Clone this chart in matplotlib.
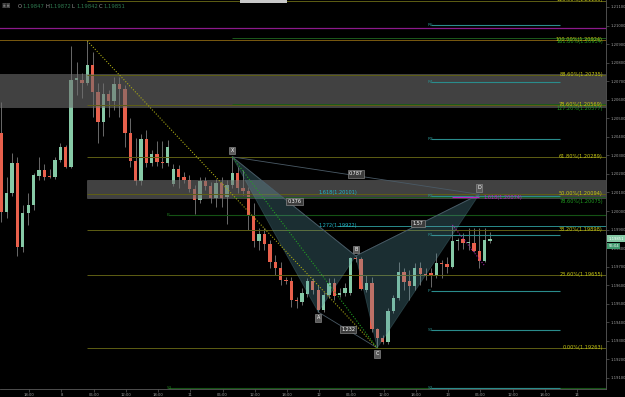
import numpy as np
import matplotlib
matplotlib.use('Agg')
import matplotlib.pyplot as plt
from matplotlib.patches import Polygon, Rectangle

# hourly candles
opens = [1.20421, 1.19995, 1.20098, 1.20259, 1.19807, 1.19990, 1.20033, 1.20189, 1.20222, 1.20188,
         1.20184, 1.20276, 1.20346, 1.20238, 1.20707, 1.20707, 1.20691, 1.20788, 1.20642, 1.20480,
         1.20631, 1.20594, 1.20685, 1.20658, 1.20421, 1.20270, 1.20162, 1.20389, 1.20259, 1.20308,
         1.20265, 1.20259, 1.20146, 1.20227, 1.20184, 1.20168, 1.20119, 1.20060, 1.20162, 1.20136,
         1.20071, 1.20152, 1.20076, 1.20141, 1.20206, 1.20125, 1.20109, 1.19974, 1.19839, 1.19877,
         1.19823, 1.19726, 1.19694, 1.19629, 1.19623, 1.19521, 1.19510, 1.19553, 1.19623, 1.19575,
         1.19467, 1.19548, 1.19613, 1.19548, 1.19559, 1.19559, 1.19747, 1.19742, 1.19575, 1.19613,
         1.19365, 1.19316, 1.19295, 1.19462, 1.19532, 1.19672, 1.19623, 1.19597, 1.19694, 1.19661,
         1.19667, 1.19650, 1.19720, 1.19715, 1.19699, 1.19839, 1.19850, 1.19828, 1.19828, 1.19785,
         1.19731, 1.19839]
highs = [1.20588, 1.20184, 1.20313, 1.20292, 1.20033, 1.20098, 1.20206, 1.20292, 1.20254, 1.20227,
         1.20292, 1.20367, 1.20356, 1.20890, 1.20804, 1.20745, 1.20917, 1.20858, 1.20691, 1.20691,
         1.20653, 1.20723, 1.20723, 1.20680, 1.20502, 1.20394, 1.20416, 1.20437, 1.20330, 1.20378,
         1.20378, 1.20383, 1.20254, 1.20249, 1.20211, 1.20195, 1.20141, 1.20184, 1.20184, 1.20157,
         1.20173, 1.20184, 1.20168, 1.20292, 1.20238, 1.20222, 1.20130, 1.20044, 1.19909, 1.19909,
         1.19844, 1.19764, 1.19726, 1.19645, 1.19645, 1.19537, 1.19586, 1.19640, 1.19640, 1.19602,
         1.19564, 1.19640, 1.19640, 1.19586, 1.19613, 1.19753, 1.19758, 1.19753, 1.19656, 1.19645,
         1.19370, 1.19332, 1.19478, 1.19548, 1.19726, 1.19694, 1.19683, 1.19720, 1.19726, 1.19694,
         1.19694, 1.19774, 1.19737, 1.19753, 1.19925, 1.19855, 1.19882, 1.19909, 1.19909, 1.19909,
         1.19909, 1.19887]
lows = [1.19941, 1.19963, 1.20082, 1.19758, 1.19780, 1.19925, 1.20006, 1.20168, 1.20168, 1.20179,
        1.20173, 1.20265, 1.20233, 1.20233, 1.20626, 1.20610, 1.20680, 1.20507, 1.20367, 1.20405,
        1.20507, 1.20545, 1.20507, 1.20346, 1.20238, 1.20141, 1.20141, 1.20238, 1.20243, 1.20243,
        1.20233, 1.20243, 1.20136, 1.20125, 1.20152, 1.20103, 1.19985, 1.20044, 1.20114, 1.20044,
        1.20022, 1.20022, 1.19931, 1.20125, 1.20098, 1.20087, 1.19898, 1.19807, 1.19791, 1.19791,
        1.19694, 1.19656, 1.19602, 1.19607, 1.19483, 1.19478, 1.19494, 1.19537, 1.19553, 1.19456,
        1.19456, 1.19532, 1.19521, 1.19537, 1.19543, 1.19548, 1.19726, 1.19575, 1.19564, 1.19349,
        1.19262, 1.19284, 1.19284, 1.19451, 1.19521, 1.19575, 1.19521, 1.19575, 1.19602, 1.19629,
        1.19591, 1.19640, 1.19640, 1.19667, 1.19694, 1.19791, 1.19796, 1.19791, 1.19780, 1.19694,
        1.19726, 1.19828]
closes = [1.19995, 1.20098, 1.20259, 1.19807, 1.19990, 1.20033, 1.20195, 1.20222, 1.20184, 1.20184,
          1.20276, 1.20346, 1.20238, 1.20707, 1.20718, 1.20691, 1.20788, 1.20642, 1.20480, 1.20631,
          1.20594, 1.20685, 1.20658, 1.20421, 1.20270, 1.20162, 1.20389, 1.20259, 1.20308, 1.20265,
          1.20259, 1.20346, 1.20227, 1.20184, 1.20168, 1.20119, 1.20060, 1.20162, 1.20136, 1.20071,
          1.20152, 1.20071, 1.20141, 1.20206, 1.20125, 1.20109, 1.19974, 1.19839, 1.19877, 1.19823,
          1.19726, 1.19694, 1.19629, 1.19623, 1.19521, 1.19516, 1.19559, 1.19623, 1.19575, 1.19467,
          1.19548, 1.19613, 1.19543, 1.19559, 1.19586, 1.19747, 1.19742, 1.19580, 1.19613, 1.19365,
          1.19316, 1.19295, 1.19462, 1.19532, 1.19672, 1.19618, 1.19597, 1.19694, 1.19661, 1.19656,
          1.19656, 1.19720, 1.19715, 1.19699, 1.19839, 1.19844, 1.19828, 1.19833, 1.19785, 1.19731,
          1.19844, 1.19851]

time_ticks = [5.2 + 6 * k for k in range(18)]
time_labels = ['18:00', '8', '06:00', '12:00', '18:00', '11', '06:00', '12:00', '18:00',
               '12', '06:00', '12:00', '18:00', '13', '06:00', '12:00', '18:00', '14']

# fibonacci retracement (yellow) and extension from X (green)
fib_pct = ['113.00%', '100.00%', '88.60%', '78.60%', '61.80%', '50.00%', '38.20%', '23.60%', '0.00%']
fib_px = [1.21135, 1.20924, 1.20735, 1.20569, 1.20289, 1.20094, 1.19898, 1.19655, 1.19263]
gfib_pct = ['161.80%', '127.20%', '78.60%']
gfib_px = [1.20934, 1.20577, 1.20075]

# pivots
piv_names = ['R5', 'R4', 'R3', 'R2', 'R1', 'P', 'S1', 'S2']
piv_px = [1.21003, 1.20696, 1.20389, 1.20082, 1.19871, 1.19570, 1.19359, 1.19047]
old_piv_names = ['P', 'S1']
old_piv_px = [1.19979, 1.19047]

# supply/demand zones
zone_lo = [1.20561, 1.20071]
zone_hi = [1.20739, 1.20168]
zone_start = [-1, 16]

# XABCD pattern
pat_names = ['X', 'A', 'B', 'C', 'D']
pat_idx = [43, 59, 66, 70, 89]
pat_px = [1.20292, 1.19456, 1.19758, 1.19262, 1.20090]

GREEN = '#86c9a6'
RED = '#e8604c'
OLIVE = '#5e5e14'
YEL = '#c8c814'
FGREEN = '#22a022'
TEAL = '#2a8c8c'
MAG = '#8c1a8c'

XMAX = 112.6
fig = plt.figure(figsize=(6.25, 3.97), dpi=100, facecolor='black')
ax = fig.add_axes([0, 8 / 397, 606 / 625, 389 / 397], facecolor='black')
ax.set_xlim(-0.25, XMAX)
ax.set_ylim(1.190407, 1.211377)

# candles
x = np.arange(len(opens))
o = np.array(opens); c = np.array(closes)
cols = [GREEN if cc >= oo else RED for oo, cc in zip(o, c)]
ax.vlines(x, lows, highs, color='#7a7a7a', lw=0.6, zorder=2)
body = np.where(np.abs(c - o) < 0.00003, 0.00003, c - o)
ax.bar(x, body, bottom=o, width=0.62, color=cols, lw=0, zorder=3)

# zones on top, translucent
for lo, hi, st in zip(zone_lo, zone_hi, zone_start):
    ax.add_patch(Rectangle((st, lo), XMAX - st + 1, hi - lo, fc='#6e6e6e', ec='#808080',
                           lw=0.4, alpha=0.6, zorder=4))

# magenta level
ax.axhline(1.20987, color=MAG, lw=0.9, zorder=5)

# fib lines
for pct, p in zip(fib_pct, fib_px):
    st = -1 if pct == '100.00%' else 16
    ax.hlines(p, st, XMAX, color=OLIVE if pct != '100.00%' else '#7a5a10', lw=0.7, zorder=5)
    ax.text(XMAX - 0.6, p + 0.00003, f'{pct}({p:.5f})', color=YEL, fontsize=3.6, ha='right',
            va='center', zorder=7)
for pct, p in zip(gfib_pct, gfib_px):
    ax.hlines(p, 43, XMAX, color='#1c5a1c', lw=0.7, zorder=5)
    ax.text(XMAX - 0.6, p - 0.00022, f'{pct}({p:.5f})', color=FGREEN, fontsize=3.6,
            ha='right', va='center', zorder=7)

# old pivots (dark green)
for n, p in zip(old_piv_names, old_piv_px):
    ax.hlines(p, 31, XMAX, color='#145214', lw=0.8, zorder=5)
    ax.text(30.8, p, n, color='#1e7a1e', fontsize=3.2, ha='left', va='center', zorder=7)

# today's pivots (teal)
for n, p in zip(piv_names, piv_px):
    ax.hlines(p, 80, 104, color=TEAL, lw=0.8, zorder=5)
    ax.text(79.4, p, n, color=TEAL, fontsize=3.2, ha='left', va='center', zorder=7)

# pattern fill
X = list(zip(pat_idx, pat_px))
for tri in [(X[0], X[1], X[2]), (X[2], X[3], X[4])]:
    ax.add_patch(Polygon(tri, closed=True, fc='#5a9aa8', ec='#5c8c96', alpha=0.3, lw=0.6,
                         zorder=6))
for a, b in [(0, 2), (0, 4), (1, 3), (2, 4)]:
    ax.plot([X[a][0], X[b][0]], [X[a][1], X[b][1]], color='#4a5a66', lw=0.6, zorder=6)

# dotted trend lines
ax.plot([16, 70], [1.20917, 1.19262], color='#a8a814', lw=0.8, ls=(0, (1, 1.5)), zorder=6)
ax.plot([43, 70], [1.20292, 1.19262], color='#22a022', lw=0.8, ls=(0, (1, 1.5)), zorder=6)
ax.plot([84, 90], [1.19925, 1.19705], color='#a020a0', lw=0.8, ls=(0, (1, 1.5)), zorder=6)

# projections
ax.hlines(1.19922, 62.5, XMAX, color=TEAL, lw=0.7, zorder=5)
ax.text(59, 1.19922, '1.272(1.19922)', color='#20b8c8', fontsize=3.6, ha='left', va='center', zorder=7)
ax.text(59, 1.20101, '1.618(1.20101)', color='#20b8c8', fontsize=3.6, ha='left', va='center', zorder=7)
ax.hlines(1.20074, 84, 89, color='#c020c0', lw=0.8, zorder=7)
ax.text(89.8, 1.20074, '1.618(1.20074)', color='#c020c0', fontsize=3.6, ha='left', va='center', zorder=7)

box = dict(boxstyle='square,pad=0.25', fc='#3c3c3c', ec='#9a9a9a', lw=0.4)
ratios = [('0.787', 66, 1.20200), ('0.376', 54.6, 1.20050), ('1.232', 64.6, 1.19362),
          ('1.57', 77.6, 1.19933)]
for t, xi, p in ratios:
    ax.text(xi, p, t, color='white', fontsize=3.5, ha='center', va='center', bbox=box, zorder=8)
offs = [0.00035, -0.00032, 0.00035, -0.00032, 0.00035]
for n, xi, p, d in zip(pat_names, pat_idx, pat_px, offs):
    ax.text(xi, p + d, n, color='white', fontsize=3.5, ha='center', va='center',
            bbox=dict(boxstyle='square,pad=0.25', fc='#5a5a5a', ec='#9a9a9a', lw=0.4), zorder=8)

# axes styling
for s in ['top', 'left']:
    ax.spines[s].set_visible(False)
for s in ['right', 'bottom']:
    ax.spines[s].set_color('#5a5a5a'); ax.spines[s].set_linewidth(0.6)
ax.yaxis.tick_right()
ax.set_yticks(np.round(np.arange(1.191, 1.2115, 0.001), 3))
ax.yaxis.set_major_formatter(matplotlib.ticker.FormatStrFormatter('%.5f'))
ax.set_xticks(time_ticks)
ax.set_xticklabels(time_labels)
ax.tick_params(colors='#5a5a5a', labelcolor='#a0a0a0', labelsize=2.7, length=2, width=0.5, pad=1)

# current price box
tr = ax.get_yaxis_transform()
ax.text(1.004, 1.19851, '1.19851', transform=tr, fontsize=2.7, color='white', ha='left',
        va='center', bbox=dict(boxstyle='square,pad=0.35', fc='#86c9a6', ec='none'), clip_on=False, zorder=9)
ax.text(1.004, 1.19812, '55:04', transform=tr, fontsize=2.7, color='white', ha='left',
        va='center', bbox=dict(boxstyle='square,pad=0.35', fc='#3f9a6e', ec='none'), clip_on=False, zorder=9)

# header
fig.text(2 / 625, 1 - 6 / 397, '\u25a3\u25a3', color='#7a7a7a', fontsize=3.6, va='center')
parts = [('O', '1.19847', 18), ('H', '1.19872', 45), ('L', '1.19842', 72), ('C', '1.19851', 99)]
for k, v, px in parts:
    fig.text(px / 625, 1 - 6 / 397, k, color='#9a9a9a', fontsize=3.8, va='center')
    fig.text((px + 4.5) / 625, 1 - 6 / 397, v, color='#2f7a50', fontsize=3.8, va='center')
fig.patches.append(Rectangle((240 / 625, 1 - 3 / 397), 47 / 625, 3 / 397, fc='#c8c8c8',
                             ec='none', transform=fig.transFigure, figure=fig))

fig.savefig('out.png', dpi=100, facecolor='black')
